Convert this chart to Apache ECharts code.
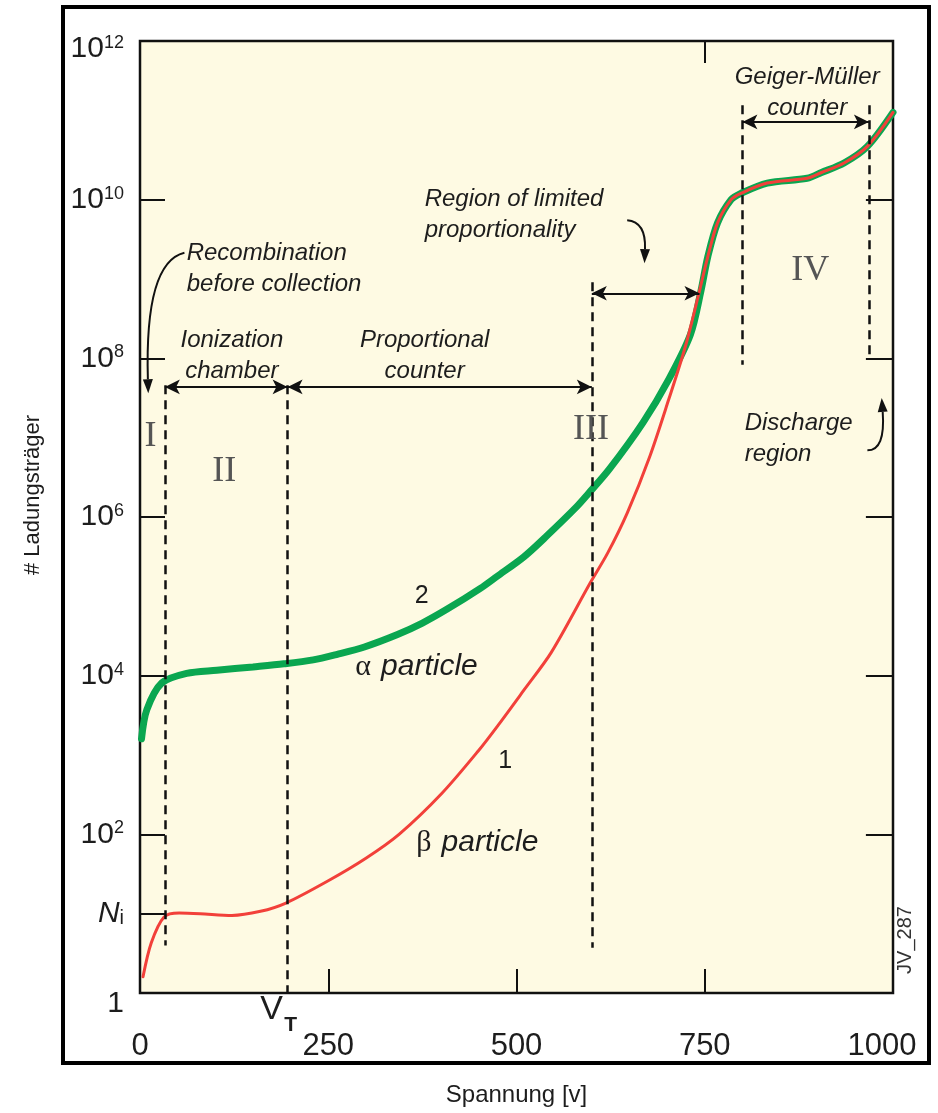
<!DOCTYPE html>
<html>
<head>
<meta charset="utf-8">
<script src="https://cdn.jsdelivr.net/npm/echarts@6/dist/echarts.min.js"></script>
<style>
  html, body { margin: 0; padding: 0; background: #fff; }
  #chart { width: 938px; height: 1113px; }
</style>
</head>
<body>
<div id="chart"></div>
<script>
// alpha particle curve (2)
const voltsAlpha = [2, 9, 29, 62, 102, 150, 191, 230, 262, 298, 342, 375, 408, 452, 474, 510, 540, 580, 595, 623, 668, 702, 731, 745, 754, 767, 785, 798, 833, 886, 905, 935, 966, 1000];
const alphaCount = [1.6e3, 3.7e3, 8.1e3, 1.07e4, 1.17e4, 1.29e4, 1.41e4, 1.58e4, 1.86e4, 2.3e4, 3.3e4, 4.6e4, 6.9e4, 1.26e5, 1.78e5, 3.16e5, 5.75e5, 1.35e6, 1.95e6, 3.98e6, 1.55e7, 5.4e7, 2.0e8, 7.1e8, 1.9e9, 5.1e9, 1.0e10, 1.2e10, 1.62e10, 1.86e10, 2.2e10, 2.9e10, 4.7e10, 1.26e11];

// beta particle curve (1)
const voltsBeta = [4, 15, 32, 52, 80, 122, 160, 193, 250, 300, 344, 401, 450, 476, 510, 546, 598, 621, 647, 677, 702, 724, 741, 754, 767, 785, 798, 833, 886, 905, 935, 966, 1000];
const betaCount = [1.6, 4.3, 9.1, 10.2, 10, 9.5, 10.7, 13.5, 26, 50, 100, 330, 1.15e3, 2.4e3, 6.6e3, 1.95e4, 1.48e5, 3.5e5, 1.12e6, 5.8e6, 3.0e7, 1.38e8, 5.9e8, 1.9e9, 5.1e9, 1.0e10, 1.2e10, 1.62e10, 1.86e10, 2.2e10, 2.9e10, 4.7e10, 1.26e11];

const xTickLabels = [0, 250, 500, 750, 1000];
const yLabelValues = [1, 10, 1e2, 1e4, 1e6, 1e8, 1e10, 1e12];
const yTickValues = [10, 1e2, 1e4, 1e6, 1e8, 1e10];
const yRightTicks = [1e2, 1e4, 1e6, 1e8, 1e10];

const font = "'Liberation Sans', Arial, sans-serif";
const serif = "'Liberation Serif', 'Times New Roman', serif";
const ink = '#1d1d1d';

// position helper: voltage + decade exponent
const P = (v, e) => [v, Math.pow(10, e)];

const dash = { type: [9, 6], width: 2.5, color: '#111' };
const solid = { type: 'solid', width: 2, color: '#111' };

const vline = (v, e0, e1) => [
  { coord: P(v, e0), symbol: 'none', lineStyle: dash },
  { coord: P(v, e1), symbol: 'none' }
];
const span = (v0, v1, e) => [
  { coord: P(v0, e), symbol: 'arrow', lineStyle: solid },
  { coord: P(v1, e), symbol: 'arrow' }
];
// short inward tick on the right frame
const rightTick = n => [
  { coord: [964, n], symbol: 'none', lineStyle: solid },
  { coord: [1000, n], symbol: 'none' }
];

const option = {
  animation: false,
  backgroundColor: '#fff',
  grid: {
    left: 140, right: 45, top: 41, bottom: 120,
    show: true,
    backgroundColor: '#fefae3',
    borderColor: '#111',
    borderWidth: 2.5
  },
  xAxis: [
    {
      type: 'value', min: 0, max: 1000, interval: 250,
      name: 'Spannung [v]', nameLocation: 'middle', nameGap: 90,
      nameTextStyle: { fontFamily: font, fontSize: 24, color: ink },
      axisLine: { show: false },
      splitLine: { show: false },
      axisTick: { inside: true, length: 24, customValues: [250, 500, 750], lineStyle: { color: '#111', width: 2 } },
      axisLabel: {
        margin: 38, fontFamily: font, fontSize: 31, color: ink,
        customValues: xTickLabels,
        formatter: v => v === 1000 ? '{r|1000}' : String(v),
        rich: { r: { fontFamily: font, fontSize: 31, color: ink, padding: [0, 22, 0, 0] } }
      }
    },
    {
      type: 'value', min: 0, max: 1000, position: 'top',
      axisLine: { show: false }, splitLine: { show: false }, axisLabel: { show: false },
      axisTick: { inside: true, length: 22, customValues: [750], lineStyle: { color: '#111', width: 2 } }
    }
  ],
  yAxis: {
    type: 'log', logBase: 10, min: 1, max: 1e12,
    name: '# Ladungsträger', nameLocation: 'middle', nameGap: 96, nameRotate: 90,
    nameTextStyle: { fontFamily: font, fontSize: 22, color: ink, padding: [0, 0, 0, 44] },
    axisLine: { show: false }, splitLine: { show: false },
    axisTick: { inside: true, length: 25, customValues: yTickValues, lineStyle: { color: '#111', width: 2 } },
    axisLabel: {
      margin: 16, color: ink,
      customValues: yLabelValues,
      formatter: v => {
        const e = Math.round(Math.log10(v));
        if (e === 0) return '{o|1}';
        if (e === 1) return '{n|N}{i|i}';
        if (e === 12) return '{B|10}{S|12}';
        return '{b|10}{s|' + e + '}';
      },
      rich: {
        b: { fontFamily: font, fontSize: 30, color: ink },
        s: { fontFamily: font, fontSize: 18, color: ink, verticalAlign: 'top' },
        B: { fontFamily: font, fontSize: 30, color: ink, padding: [16, 0, 0, 0] },
        S: { fontFamily: font, fontSize: 18, color: ink, verticalAlign: 'top', padding: [16, 0, 0, 0] },
        o: { fontFamily: font, fontSize: 30, color: ink, padding: [22, 0, 0, 0] },
        n: { fontFamily: font, fontSize: 30, fontStyle: 'italic', color: ink },
        i: { fontFamily: font, fontSize: 20, color: ink, verticalAlign: 'bottom' }
      }
    }
  },
  series: [
    {
      name: 'alpha', type: 'line', showSymbol: false, symbol: 'none',
      smooth: 0.3, z: 2,
      lineStyle: { color: '#0aa650', width: 7, cap: 'round' },
      data: voltsAlpha.map((v, i) => [v, alphaCount[i]])
    },
    {
      name: 'beta', type: 'line', showSymbol: false, symbol: 'none',
      smooth: 0.3, z: 3,
      lineStyle: { color: '#f2403a', width: 3, cap: 'round' },
      data: voltsBeta.map((v, i) => [v, betaCount[i]])
    },
    {
      name: 'regions', type: 'line', data: [], silent: true, z: 4,
      markLine: {
        silent: true, animation: false,
        symbolSize: [11, 15],
        label: { show: false },
        emphasis: { disabled: true },
        data: [
          vline(33, 7.66, 0.6),
          vline(196, 7.66, 0),
          vline(600, 8.96, 0.57),
          vline(800, 11.19, 7.92),
          vline(968, 11.19, 7.98),
          span(33, 196, 7.64),
          span(196, 600, 7.64),
          span(600, 743, 8.82),
          span(800, 968, 10.98),
          ...yRightTicks.map(rightTick)
        ]
      }
    }
  ],
  graphic: []
};

const chart = echarts.init(document.getElementById('chart'));
chart.setOption(option);

const toPx = (v, e) => chart.convertToPixel({ seriesIndex: 0 }, P(v, e));

const notes = [
  { text: 'Recombination\nbefore collection', v: 62, e: 9.13, align: 'left' },
  { text: 'Ionization\nchamber', v: 122, e: 8.03 },
  { text: 'Proportional\ncounter', v: 378, e: 8.03 },
  { text: 'Region of limited\nproportionality', v: 378, e: 9.81, align: 'left' },
  { text: 'Geiger-Müller\ncounter', v: 886, e: 11.35 },
  { text: 'Discharge\nregion', v: 803, e: 6.98, align: 'left' }
];
const romans = [
  { text: 'I', v: 14, e: 7.01 },
  { text: 'II', v: 112, e: 6.57 },
  { text: 'III', v: 599, e: 7.10 },
  { text: 'IV', v: 890, e: 9.11 }
];
// curved pointers: start, control, end
const pointers = [
  [[59, 9.33], [6, 9.21], [11, 7.56]],
  [[647, 9.74], [672, 9.72], [670, 9.2]],
  [[966, 6.84], [990, 6.84], [985, 7.5]]
];

const graphics = [];
graphics.push({
  type: 'rect', z: 0, silent: true,
  shape: { x: 63, y: 7, width: 866, height: 1056 },
  style: { fill: 'none', stroke: '#000', lineWidth: 4 }
});

pointers.forEach(([a, c, b]) => {
  const [x1, y1] = toPx(a[0], a[1]);
  const [cx, cy] = toPx(c[0], c[1]);
  const [x2, y2] = toPx(b[0], b[1]);
  const ang = Math.atan2(y2 - cy, x2 - cx);
  const L = 14, W = 5;
  const bx = x2 - L * Math.cos(ang), by = y2 - L * Math.sin(ang);
  graphics.push({
    type: 'bezierCurve', z: 9, silent: true,
    shape: { x1, y1, x2: bx, y2: by, cpx1: cx, cpy1: cy },
    style: { stroke: '#111', lineWidth: 2, fill: 'none' }
  });
  graphics.push({
    type: 'polygon', z: 9, silent: true,
    shape: { points: [[x2, y2], [bx - W * Math.sin(ang), by + W * Math.cos(ang)], [bx + W * Math.sin(ang), by - W * Math.cos(ang)]] },
    style: { fill: '#111' }
  });
});

notes.forEach(n => {
  const [x, y] = toPx(n.v, n.e);
  graphics.push({
    type: 'text', x, y, z: 10, silent: true,
    style: {
      text: n.text, fontFamily: font, fontStyle: 'italic', fontSize: 24, lineHeight: 31,
      fill: ink, align: n.align || 'center', verticalAlign: 'middle'
    }
  });
});

romans.forEach(n => {
  const [x, y] = toPx(n.v, n.e);
  graphics.push({
    type: 'text', x, y, z: 10, silent: true,
    style: { text: n.text, fontFamily: serif, fontSize: 36, fill: '#555', align: 'center', verticalAlign: 'middle' }
  });
});

[['2', 374, 5.0], ['1', 485, 2.92]].forEach(([t, v, e]) => {
  const [x, y] = toPx(v, e);
  graphics.push({
    type: 'text', x, y, z: 10, silent: true,
    style: { text: t, fontFamily: font, fontSize: 25, fill: ink, align: 'center', verticalAlign: 'middle' }
  });
});

[['α', 286, 4.11], ['β', 367, 1.89]].forEach(([g, v, e]) => {
  const [x, y] = toPx(v, e);
  graphics.push({
    type: 'text', x, y, z: 10, silent: true,
    style: {
      text: '{g|' + g + '}{t|particle}', align: 'left', verticalAlign: 'middle',
      rich: {
        g: { fontFamily: serif, fontSize: 30, fill: ink, padding: [0, 10, 0, 0] },
        t: { fontFamily: font, fontStyle: 'italic', fontSize: 30, fill: ink }
      }
    }
  });
});

// V_T under the ionization/proportional boundary
const [vtx, vty] = toPx(196, 0);
graphics.push({
  type: 'text', x: vtx - 16, y: vty + 17, z: 10, silent: true,
  style: { text: 'V', fontFamily: font, fontSize: 34, fill: ink, align: 'center', verticalAlign: 'middle' }
});
graphics.push({
  type: 'text', x: vtx + 3, y: vty + 32, z: 10, silent: true,
  style: { text: 'T', fontFamily: font, fontSize: 21, fontWeight: 'bold', fill: ink, align: 'center', verticalAlign: 'middle' }
});

// figure id on the right margin
const [jx, jy] = toPx(1000, 0);
graphics.push({
  type: 'text', x: jx + 12, y: jy - 53, rotation: Math.PI / 2, z: 10, silent: true,
  style: { text: 'JV_287', fontFamily: font, fontSize: 20, fill: '#333', align: 'center', verticalAlign: 'middle' }
});

chart.setOption({ graphic: graphics });
</script>
</body>
</html>
